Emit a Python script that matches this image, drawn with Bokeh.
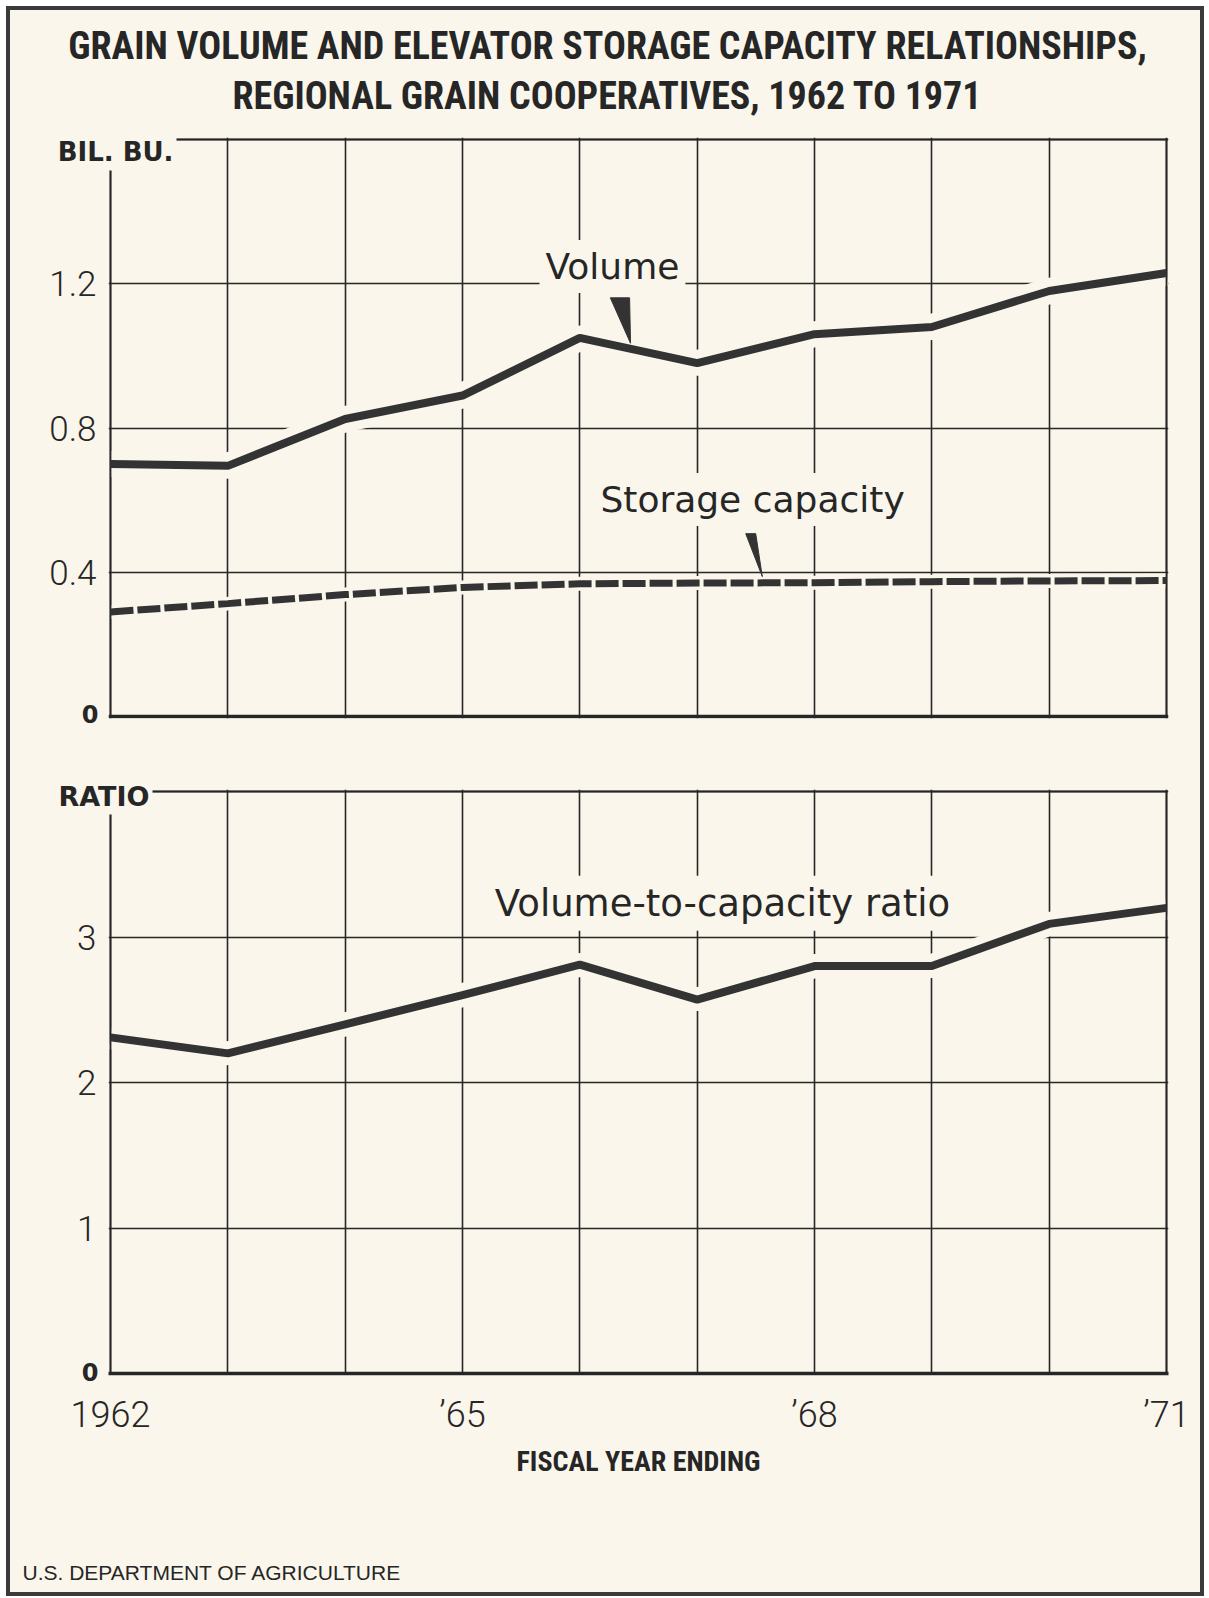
from bokeh.plotting import figure
from bokeh.models import Range1d, FixedTicker, Label, Grid
from bokeh.layouts import column
from bokeh.embed import file_html
from bokeh.resources import INLINE

# ---------------- data ----------------
years = [1962, 1963, 1964, 1965, 1966, 1967, 1968, 1969, 1970, 1971]
volume = [0.70, 0.695, 0.825, 0.89, 1.05, 0.98, 1.06, 1.08, 1.18, 1.23]
capacity = [0.29, 0.313, 0.338, 0.358, 0.368, 0.370, 0.371, 0.374, 0.376, 0.377]
ratio = [2.31, 2.20, 2.40, 2.60, 2.81, 2.57, 2.80, 2.80, 3.09, 3.20]
top_grid = [0, 0.4, 0.8, 1.2, 1.6]
top_ticks = [0.4, 0.8, 1.2]
bot_grid = [0, 1, 2, 3, 4]
bot_ticks = [1, 2, 3]
x_ticks = [1962, 1965, 1968, 1971]
x_tick_labels = {1962: "1962", 1965: "\u201965", 1968: "\u201968", 1971: "\u201971"}

# pointer wedges (annotation geometry, data space)
vol_ptr_x = [1966.26, 1966.424, 1966.432]
vol_ptr_y = [1.161, 1.161, 1.035]
cap_ptr_x = [1967.414, 1967.499, 1967.555]
cap_ptr_y = [0.507, 0.507, 0.388]

BG = "#faf6eb"
INK = "#262626"
LINE = "#333333"
TICK_FONT = "Roboto Light"
LBL_FONT = "DejaVu Sans"
COND_FONT = "Roboto Condensed"

W = 1190
H1 = 742
H2 = 840
X0, X1 = years[0], years[-1]
TOP_MAX = top_grid[-1]
BOT_MAX = bot_grid[-1]
XPAD = 2 / 117.33          # 2px of room so frame lines are not clipped


def base_fig(height, yr, top, bottom, xaxis):
    p = figure(width=W, height=height, x_range=Range1d(X0 - XPAD, X1 + XPAD), y_range=yr,
               output_backend="svg", toolbar_location=None,
               x_axis_location="below" if xaxis else None,
               min_border_left=98, min_border_right=32,
               min_border_top=top, min_border_bottom=bottom,
               background_fill_color=BG, border_fill_color=BG,
               outline_line_color=None)
    p.grid.grid_line_color = None
    return p


def style_yaxis(p, ticks):
    ax = p.yaxis[0]
    ax.ticker = FixedTicker(ticks=ticks)
    ax.axis_line_color = None
    ax.major_tick_line_color = None
    ax.minor_tick_line_color = None
    ax.major_tick_out = 0
    ax.major_tick_in = 0
    ax.major_label_standoff = 12
    ax.major_label_text_font = TICK_FONT
    ax.major_label_text_font_size = "35px"
    ax.major_label_text_color = INK


def add_grids(p, yticks):
    p.add_layout(Grid(dimension=0, ticker=FixedTicker(ticks=years),
                      grid_line_color=INK, grid_line_width=1.6))
    p.add_layout(Grid(dimension=1, ticker=FixedTicker(ticks=yticks),
                      grid_line_color=INK, grid_line_width=1.6))


def add_frame(p, ymax, bottom_line):
    p.segment(x0=[X0, X1, X0], y0=[0, 0, ymax], x1=[X0, X1, X1], y1=[ymax, ymax, ymax],
              line_color=INK, line_width=1.8, line_cap="square")
    if bottom_line:
        p.segment(x0=[X0], y0=[0], x1=[X1], y1=[0], line_color=INK, line_width=3.5,
                  line_cap="square")


def text_label(p, place, x, y, text, size, align="center", style="normal",
               font=LBL_FONT, x_offset=0, pad=0, bg=False):
    kw = dict(x=x, y=y, x_offset=x_offset, text=text, text_align=align,
              text_baseline="alphabetic", text_font=font, text_font_size=size,
              text_font_style=style, text_color=INK)
    if bg:
        kw.update(background_fill_color=BG, padding=pad)
    if place == "center":
        p.add_layout(Label(**kw))
    else:
        p.add_layout(Label(**kw), place)


# ---------------- top panel ----------------
p1 = base_fig(H1, Range1d(-2 / 360.6, TOP_MAX + 2 / 360.6), 127, 34, False)
style_yaxis(p1, top_ticks)
add_grids(p1, top_grid)

p1.line(years, volume, line_color=BG, line_width=26)
p1.line(years, capacity, line_color=BG, line_width=14)
add_frame(p1, TOP_MAX, True)
p1.line(years, volume, line_color=LINE, line_width=8)
p1.line(years, capacity, line_color=LINE, line_width=7, line_dash="23 4")
p1.patch(vol_ptr_x, vol_ptr_y, fill_color=LINE, line_color=LINE, line_width=1)
p1.patch(cap_ptr_x, cap_ptr_y, fill_color=LINE, line_color=LINE, line_width=1)

text_label(p1, "center", 1966.278, 1.248, "Volume", "36px", pad=6, bg=True)
text_label(p1, "center", 1967.472, 0.602, "Storage capacity", "36px", pad=6, bg=True)

text_label(p1, "above", 1966.236, 1.722, "REGIONAL GRAIN COOPERATIVES, 1962 TO 1971",
           "38px", style="bold", font=COND_FONT)
text_label(p1, "above", 1966.236, 1.860,
           "GRAIN VOLUME AND ELEVATOR STORAGE CAPACITY RELATIONSHIPS,",
           "38px", style="bold", font=COND_FONT)
text_label(p1, "above", X0, 1.564, "BIL. BU.", "26px", align="right", style="bold",
           x_offset=66, pad=3, bg=True)
text_label(p1, "below", X0, 0.0067, "0", "24px", align="right", style="bold",
           x_offset=-12)

# ---------------- bottom panel ----------------
p2 = base_fig(H2, Range1d(0, BOT_MAX + 2 / 145.5), 37, 219, True)
style_yaxis(p2, bot_ticks)
add_grids(p2, bot_grid)

xa = p2.xaxis[0]
xa.ticker = FixedTicker(ticks=x_ticks)
xa.major_label_overrides = x_tick_labels
xa.axis_line_color = INK
xa.axis_line_width = 3.5
xa.major_tick_line_color = None
xa.minor_tick_line_color = None
xa.major_tick_out = 0
xa.major_tick_in = 0
xa.major_label_standoff = 20
xa.major_label_text_font = TICK_FONT
xa.major_label_text_font_size = "36px"
xa.major_label_text_color = INK
xa.axis_label = "FISCAL YEAR ENDING"
xa.axis_label_standoff = 6
xa.axis_label_text_font = COND_FONT
xa.axis_label_text_font_style = "bold"
xa.axis_label_text_font_size = "28px"
xa.axis_label_text_color = INK

p2.line(years, ratio, line_color=BG, line_width=24)
add_frame(p2, BOT_MAX, False)
p2.line(years, ratio, line_color=LINE, line_width=8)

text_label(p2, "center", 1967.216, 3.232, "Volume-to-capacity ratio", "37px", pad=6, bg=True)
text_label(p2, "below", X0, 3.969, "RATIO", "27px", align="right", style="bold",
           x_offset=42, pad=3, bg=True)
text_label(p2, "below", X0, 0.0096, "0", "24px", align="right", style="bold",
           x_offset=-12)
text_label(p2, "below", X0, -1.367, "U.S. DEPARTMENT OF AGRICULTURE", "21px",
           align="left", font="Liberation Sans", x_offset=-88)

layout = column(p1, p2, spacing=0, margin=(6, 0, 0, 6),
                styles={"border": "4px solid #3a3a3a", "background-color": BG})

open("out.html", "w").write(file_html(layout, INLINE))
